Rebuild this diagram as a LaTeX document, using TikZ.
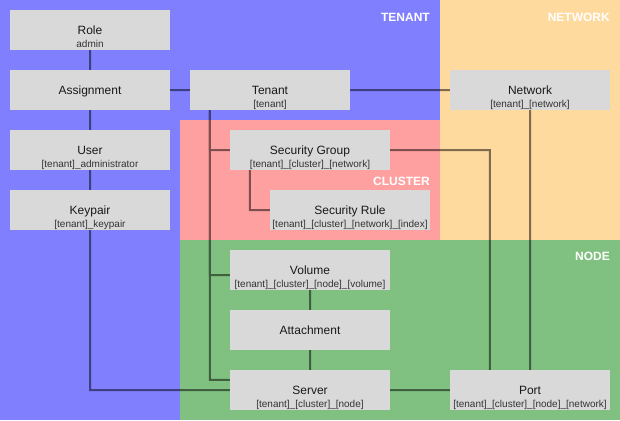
\documentclass[tikz,border=0pt]{standalone}
\usepackage{fontspec}
\setmainfont{Liberation Sans}
\definecolor{tenantblue}{HTML}{8080FF}
\definecolor{networkorange}{HTML}{FFDA9E}
\definecolor{clusterred}{HTML}{FFA0A0}
\definecolor{nodegreen}{HTML}{80C080}
\definecolor{boxgray}{HTML}{D9D9D9}
\definecolor{subgray}{HTML}{333333}

\begin{document}
\begin{tikzpicture}[x=1pt, y=-1pt,
    box/.style={fill=boxgray, minimum width=160pt, minimum height=40pt, inner sep=0pt,
        text height=8.6pt, text depth=0pt, text=black!90, font=\fontsize{12}{14}\selectfont},
    sub/.style={font=\fontsize{10}{12}\selectfont, text=subgray, anchor=base, yshift=3pt, inner sep=0pt},
    area/.style={font=\bfseries\fontsize{12}{14}\selectfont, text=white, anchor=base east, inner sep=0pt},
    link/.style={line width=2pt}]
        \useasboundingbox (0,0) rectangle (620,420);

        % zones
        \fill[tenantblue] (0,0) rectangle (440,420);
        \fill[networkorange] (440,0) rectangle (620,240);
        \fill[clusterred] (180,120) rectangle (440,240);
        \fill[nodegreen] (180,240) rectangle (620,420);

        \node[area] (tenantzone) at (430,21.5) {TENANT};
        \node[area] (networkzone) at (610,21.5) {NETWORK};
        \node[area] (clusterzone) at (430,185) {CLUSTER};
        \node[area] (nodezone) at (610,260.5) {NODE};

        % entities
        \node[box, label={[sub]below:admin}] (role) at (90,30) {Role};
        \node[box] (assignment) at (90,90) {Assignment};
        \node[box, label={[sub]below:[tenant]\_administrator}] (user) at (90,150) {User};
        \node[box, label={[sub]below:[tenant]\_keypair}] (keypair) at (90,210) {Keypair};
        \node[box, label={[sub]below:[tenant]}] (tenant) at (270,90) {Tenant};
        \node[box, label={[sub]below:[tenant]\_[network]}] (network) at (530,90) {Network};
        \node[box, label={[sub]below:[tenant]\_[cluster]\_[network]}] (secgroup) at (310,150) {Security Group};
        \node[box, label={[sub]below:[tenant]\_[cluster]\_[network]\_[index]}] (secrule) at (350,210) {Security Rule};
        \node[box, label={[sub]below:[tenant]\_[cluster]\_[node]\_[volume]}] (volume) at (310,270) {Volume};
        \node[box] (attachment) at (310,330) {Attachment};
        \node[box, label={[sub]below:[tenant]\_[cluster]\_[node]}] (server) at (310,390) {Server};
        \node[box, label={[sub]below:[tenant]\_[cluster]\_[node]\_[network]}] (port) at (530,390) {Port};

        % links
        \begin{scope}[transparency group, opacity=0.5]
            \draw[link] (role.south) -- (assignment.north);
            \draw[link] (assignment.south) -- (user.north);
            \draw[link] (user.south) -- (keypair.north);
            \draw[link] (assignment.east) -- (tenant.west);
            \draw[link] (tenant.east) -- (network.west);
            \draw[link] ([xshift=20pt]tenant.south west) |- ([yshift=-10pt]server.north west);
            \draw[link] ([xshift=20pt]tenant.south west) |- (secgroup.west);
            \draw[link] ([xshift=20pt]tenant.south west) |- ([yshift=-5pt]volume.west);
            \draw[link] ([xshift=20pt]secgroup.south west) |- (secrule.west);
            \draw[link] (secgroup.east) -| ([xshift=40pt]port.north west);
            \draw[link] (network.south) -- (port.north);
            \draw[link] (volume.south) -- (attachment.north);
            \draw[link] (attachment.south) -- (server.north);
            \draw[link] (server.east) -- (port.west);
            \draw[link] (keypair.south) |- (server.west);
        \end{scope}
\end{tikzpicture}
\end{document}
